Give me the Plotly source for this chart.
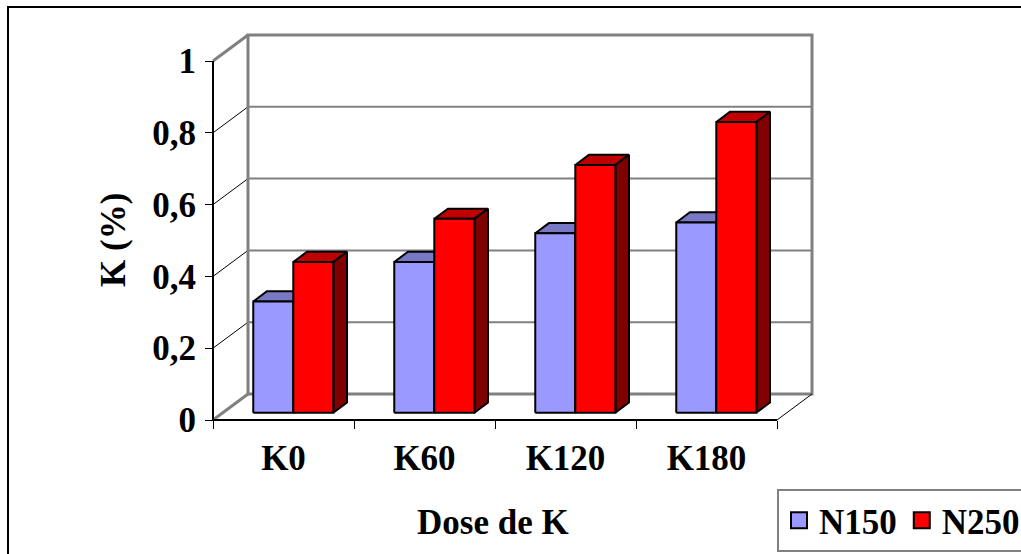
import plotly.graph_objects as go

# ---- data ----
categories = ["K0", "K60", "K120", "K180"]
n150 = [0.31, 0.42, 0.50, 0.53]
n250 = [0.42, 0.54, 0.69, 0.81]
series_names = ["N150", "N250"]
y_ticks = [0, 0.2, 0.4, 0.6, 0.8, 1]
y_tick_text = ["0", "0,2", "0,4", "0,6", "0,8", "1"]

# ---- figure geometry (pixels) ----
W, H = 1021, 554
PL, PR, PT, PB = 195, 830, 25, 430        # plot-area box
UX, UY = 141.0, 359.0                     # pixels per category / per value unit
X0_PX, Y0_PX = 213, 420                   # where (0, 0) of the front plane sits

x_range = [-(X0_PX - PL) / UX, (PR - X0_PX) / UX]
y_range = [-(PB - Y0_PX) / UY, (Y0_PX - PT) / UY]

# oblique depth of the 3-D box (one full depth, in data units)
DX, DY = 35 / UX, 26 / UY
# bar slab: front and back depth fractions, bar width in category units
F0, F1 = 0.28, 0.67
BW = 0.284

FONT = "Liberation Serif"
GRAY = "#808080"
colors = {
    "N150": {"front": "#9999FF", "top": "#7878C4", "side": "#4D4D80"},
    "N250": {"front": "#FF0000", "top": "#C00000", "side": "#800000"},
}


def px_x(p):
    return (p - PL) / (PR - PL)


def px_y(p):
    return (PB - p) / (PB - PT)


def proj(x, v, d):
    """Project a point (category x, value v, depth fraction d) to the 2-D axes."""
    return x + d * DX, v + d * DY


fig = go.Figure()


def add_line(pts, color, width):
    xs, ys = zip(*pts)
    fig.add_trace(go.Scatter(x=list(xs), y=list(ys), mode="lines",
                             line=dict(color=color, width=width),
                             hoverinfo="skip", showlegend=False))


def add_face(pts, fill):
    xs, ys = zip(*pts)
    fig.add_trace(go.Scatter(x=list(xs) + [xs[0]], y=list(ys) + [ys[0]],
                             mode="lines", fill="toself", fillcolor=fill,
                             line=dict(color="black", width=2),
                             hoverinfo="skip", showlegend=False))


n_cat = len(categories)

# back wall gridlines
for v in y_ticks[1:-1]:
    add_line([proj(0, v, 1), proj(n_cat, v, 1)], GRAY, 2)
# side wall gridlines
for v in y_ticks[1:-1]:
    add_line([proj(0, v, 0), proj(0, v, 1)], "black", 1)
# wall frame
add_line([proj(0, 0, 1), proj(0, 1, 1), proj(n_cat, 1, 1),
          proj(n_cat, 0, 1), proj(0, 0, 1)], GRAY, 3)
add_line([proj(0, 1, 0), proj(0, 1, 1)], GRAY, 3)
add_line([proj(0, 0, 0), proj(0, 0, 1)], GRAY, 3)
add_line([proj(n_cat, 0, 0), proj(n_cat, 0, 1)], "black", 1)
# front axes
add_line([proj(0, 0, 0), proj(n_cat, 0, 0)], "black", 2)
add_line([proj(0, 0, 0), proj(0, 1, 0)], "black", 2)

# bars, left to right, each drawn back faces first
for i in range(n_cat):
    for j, (name, vals) in enumerate(zip(series_names, [n150, n250])):
        a = i + 0.5 - BW + j * BW
        b = a + BW
        v = vals[i]
        c = colors[name]
        add_face([proj(a, v, F0), proj(b, v, F0), proj(b, v, F1), proj(a, v, F1)], c["top"])
        add_face([proj(b, 0, F0), proj(b, v, F0), proj(b, v, F1), proj(b, 0, F1)], c["side"])
        add_face([proj(a, 0, F0), proj(b, 0, F0), proj(b, v, F0), proj(a, v, F0)], c["front"])

# legend entries
for name in series_names:
    fig.add_trace(go.Scatter(x=[None], y=[None], mode="markers", name=name,
                             marker=dict(symbol="square", size=16,
                                         color=colors[name]["front"],
                                         line=dict(color="black", width=2))))

fig.update_layout(
    width=W, height=H,
    margin=dict(l=PL, r=W - PR, t=PT, b=H - PB, autoexpand=False),
    paper_bgcolor="white", plot_bgcolor="white",
    font=dict(family=FONT, size=35, color="black", weight="bold"),
    xaxis=dict(range=x_range, showgrid=False, zeroline=False, showline=False,
               anchor="free", position=px_y(Y0_PX),
               tickmode="array", tickvals=[i + 0.5 for i in range(n_cat)],
               ticktext=categories, ticks="", ticklabelstandoff=14,
               minor=dict(tickmode="array", tickvals=list(range(n_cat + 1)),
                          ticks="outside", ticklen=8, tickwidth=1, tickcolor="black"),
               fixedrange=True),
    yaxis=dict(range=y_range, showgrid=False, zeroline=False, showline=False,
               anchor="free", position=px_x(X0_PX),
               tickmode="array", tickvals=y_ticks, ticktext=y_tick_text,
               ticks="outside", ticklen=8, tickwidth=1, tickcolor="black",
               ticklabelstandoff=2, fixedrange=True),
    showlegend=True,
    legend=dict(orientation="h", x=px_x(777), y=px_y(489),
                xanchor="left", yanchor="top",
                bordercolor=GRAY, borderwidth=2, bgcolor="white",
                font=dict(family=FONT, size=35, weight="bold"),
                itemclick=False, itemdoubleclick=False),
    annotations=[
        dict(text="K (%)", textangle=-90, xref="paper", yref="paper",
             x=px_x(113), y=px_y(240), xanchor="center", yanchor="middle",
             showarrow=False, font=dict(family=FONT, size=35, weight="bold")),
        dict(text="Dose de K", xref="paper", yref="paper",
             x=px_x(493), y=px_y(522), xanchor="center", yanchor="middle",
             showarrow=False, font=dict(family=FONT, size=35, weight="bold")),
    ],
    shapes=[
        dict(type="rect", xref="paper", yref="paper",
             x0=px_x(8), x1=px_x(W + 20), y0=px_y(H + 20), y1=px_y(7),
             line=dict(color="black", width=2), layer="below"),
    ],
)

fig.write_html("out.html")
